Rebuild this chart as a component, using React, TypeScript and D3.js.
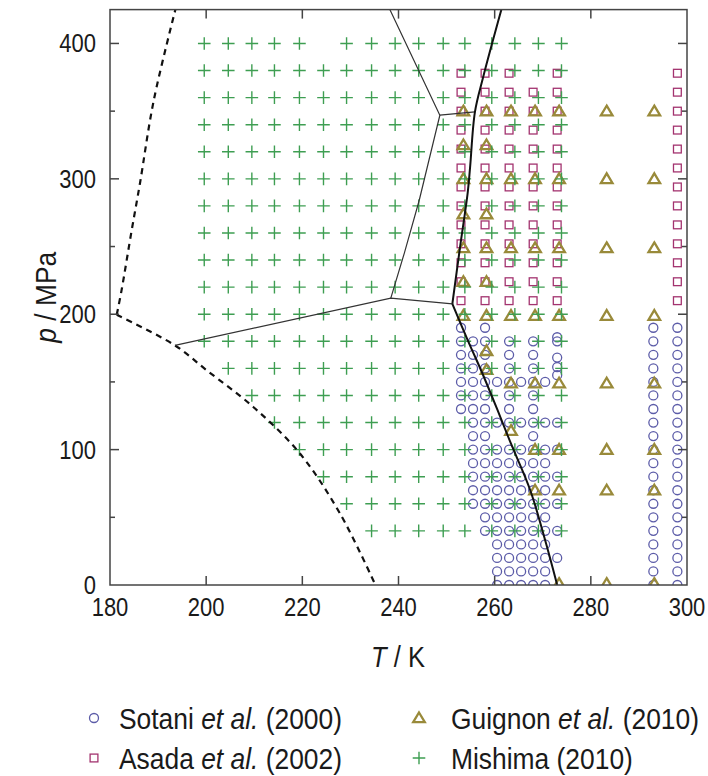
import React from "react";
import * as d3 from "d3";

// ---- Data ----------------------------------------------------------------

// Mishima (2010): grid of (T, p) points
const mishimaTemps = [199.6, 204.6, 209.5, 214.2, 219.4, 224.4, 229.2, 234.4, 239.3, 244.2, 249.3, 253.8, 259.4, 264.2, 269.1, 273.9];
const mishimaPressures = [400, 380, 360, 340, 320, 300, 280, 260, 240, 220, 200, 180, 160, 140, 120, 100, 80, 60, 40];
// lowest temperature measured on each isobar (same order as mishimaPressures)
const mishimaFirstT = [199.6, 199.6, 199.6, 199.6, 199.6, 199.6, 199.6, 199.6, 199.6, 199.6, 199.6, 199.6, 204.6, 209.5, 214.2, 219.4, 224.4, 229.2, 234.4];
const mishimaMissing: [number, number][] = [[224.4, 400]];

// Asada et al. (2002)
const asadaTemps = [253, 258, 263, 268, 273, 298];
const asadaPressures = [210, 224, 238, 252, 266, 280, 294, 308, 322, 336, 350, 364, 378];
const asadaMissing: [number, number][] = [[268, 378]];

// Guignon et al. (2010): [p, temperatures]
const guignonRows: [number, number[]][] = [
  [350, [253.5, 258.3, 263.4, 268.4, 273.4, 283.3, 293.2]],
  [325, [253.5, 258.3]],
  [300, [253.5, 258.3, 263.4, 268.4, 273.4, 283.3, 293.2]],
  [274, [253.5, 258.3]],
  [249, [253.5, 258.3, 263.4, 268.4, 273.4, 283.3, 293.2]],
  [224, [253.5, 258.3]],
  [199, [253.5, 258.3, 263.4, 268.4, 273.4, 283.3, 293.2]],
  [173, [258.3]],
  [159, [258.3]],
  [149, [263.4, 268.4, 273.4, 283.3, 293.2]],
  [114, [263.4]],
  [100, [268.4, 273.4, 283.3, 293.2]],
  [70, [268.4, 273.4, 283.3, 293.2]],
  [1, [273.4, 283.3, 293.2]],
];

// Sotani et al. (2000): [p, temperatures]
const sotaniRows: [number, number[]][] = [
  [190, [253, 258]],
  [183, [273]],
  [180, [253, 255.5, 258, 263, 268, 273]],
  [170, [253, 255.5, 258, 263, 268]],
  [168, [273]],
  [161, [273]],
  [160, [253, 255.5, 258, 263, 268]],
  [155, [273]],
  [150, [253, 255.5, 258, 260.5, 263, 265.5, 268, 270.5]],
  [140, [253, 255.5, 258, 263, 268]],
  [130, [253, 255.5, 258, 263, 268]],
  [120, [255.5, 258, 260.5, 263, 265.5, 268, 270.5, 273]],
  [110, [255.5, 258, 268]],
  [100, [255.5, 258, 260.5, 263, 265.5, 268, 270.5, 273]],
  [90, [255.5, 258, 260.5, 263, 265.5, 268, 270.5]],
  [80, [255.5, 258, 260.5, 263, 265.5, 268, 270.5, 273]],
  [70, [255.5, 258, 260.5, 263, 265.5, 268, 270.5]],
  [60, [255.5, 258, 260.5, 263, 265.5, 268, 270.5, 273]],
  [50, [258, 260.5, 263, 265.5, 268, 270.5]],
  [40, [258, 260.5, 263, 265.5, 268, 270.5, 273]],
  [30, [260.5, 263, 265.5, 268, 270.5]],
  [20, [260.5, 263, 265.5, 268, 270.5, 273]],
  [10, [260.5, 263, 265.5, 268, 270.5]],
  [0, [260.5, 263, 265.5, 268, 270.5]],
];
const sotaniHighTemps = [293, 298];
const sotaniHighPressures = [0, 10, 20, 30, 40, 50, 60, 70, 80, 90, 100, 110, 120, 130, 140, 150, 160, 170, 180, 190];

// Phase boundaries [T, p]
const boundaryUpperDashed: [number, number][] = [[181.4, 199.6], [182.4, 217.6], [184.5, 261.8], [186.2, 296], [189.1, 358], [193.6, 425]];
const boundaryLowerDashed: [number, number][] = [[181.4, 199.6], [193.5, 177], [200.1, 158.6], [209.8, 131.5], [219.5, 97.1], [227.8, 53], [235.2, 0]];
const boundaryThinA: [number, number][] = [[193.5, 177], [238.4, 211.9], [251.2, 207.7]];
const boundaryThinB: [number, number][] = [[238.4, 211.9], [241.2, 245], [244.3, 284], [248.6, 347], [238.2, 425]];
const boundaryThinC: [number, number][] = [[248.6, 347], [255.9, 349.5]];
const meltingUpper: [number, number][] = [[251.2, 207.7], [252.8, 249.5], [254.4, 290], [254.9, 309], [255.9, 349.5], [257.6, 375], [261.4, 425]];
const meltingLower: [number, number][] = [[251.2, 207.7], [254.5, 180], [257.3, 157.5], [260.5, 130], [263.2, 106], [267.4, 70], [270.5, 33], [273, 0]];

const xTicks = [180, 200, 220, 240, 260, 280, 300];
const yTicks = [0, 100, 200, 300, 400];
const yMinorTicks = [50, 150, 250, 350];

// ---- Styling ---------------------------------------------------------------
const W = 708;
const H = 776;
const M = { left: 110, right: 687, top: 9.6, bottom: 585 };
const FONT = "'Liberation Sans', Arial, Helvetica, sans-serif";
const NARROW = 0.88; // horizontal squeeze for a narrow sans look
const C_SOTANI = "#5c5ca8";
const C_ASADA = "#a3336f";
const C_GUIGNON = "#998a3a";
const C_MISHIMA = "#3e9e52";
const TEXT = "#1a1a1a";

const x = d3.scaleLinear().domain([180, 300]).range([M.left, M.right]);
const y = d3.scaleLinear().domain([0, 425]).range([M.bottom, M.top]);

const lineGen = d3
  .line<[number, number]>()
  .x((d) => x(d[0]))
  .y((d) => y(d[1]))
  .curve(d3.curveCatmullRom.alpha(0.5));

const straight = d3
  .line<[number, number]>()
  .x((d) => x(d[0]))
  .y((d) => y(d[1]));

function Circle({ cx, cy }: { cx: number; cy: number }) {
  return <circle cx={cx} cy={cy} r={4.5} fill="none" stroke={C_SOTANI} strokeWidth={1.3} />;
}
function Square({ cx, cy }: { cx: number; cy: number }) {
  return <rect x={cx - 3.9} y={cy - 3.9} width={7.8} height={7.8} fill="none" stroke={C_ASADA} strokeWidth={1.3} />;
}
function Triangle({ cx, cy }: { cx: number; cy: number }) {
  const d = `M${cx},${cy - 5.5}L${cx + 5.8},${cy + 4.2}L${cx - 5.8},${cy + 4.2}Z`;
  return <path d={d} fill="none" stroke={C_GUIGNON} strokeWidth={2.3} strokeLinejoin="miter" />;
}
function Cross({ cx, cy }: { cx: number; cy: number }) {
  return (
    <path
      d={`M${cx - 6.3},${cy}H${cx + 6.3}M${cx},${cy - 6.3}V${cy + 6.3}`}
      stroke={C_MISHIMA}
      strokeWidth={1.4}
      fill="none"
    />
  );
}

function Label({
  x0,
  y0,
  size,
  anchor = "start",
  rotate = 0,
  children,
}: {
  x0: number;
  y0: number;
  size: number;
  anchor?: "start" | "middle" | "end";
  rotate?: number;
  children: React.ReactNode;
}) {
  return (
    <text
      transform={`translate(${x0},${y0}) rotate(${rotate}) scale(${NARROW},1)`}
      textAnchor={anchor}
      fontFamily={FONT}
      fontSize={size}
      fill={TEXT}
    >
      {children}
    </text>
  );
}

export default function App() {
  const mishimaPts: [number, number][] = [];
  mishimaPressures.forEach((p, i) => {
    mishimaTemps.forEach((t) => {
      if (t < mishimaFirstT[i]) return;
      if (mishimaMissing.some(([mt, mp]) => mt === t && mp === p)) return;
      mishimaPts.push([t, p]);
    });
  });

  const asadaPts: [number, number][] = [];
  asadaPressures.forEach((p) =>
    asadaTemps.forEach((t) => {
      if (asadaMissing.some(([mt, mp]) => mt === t && mp === p)) return;
      asadaPts.push([t, p]);
    })
  );

  const guignonPts: [number, number][] = [];
  guignonRows.forEach(([p, ts]) => ts.forEach((t) => guignonPts.push([t, p])));

  const sotaniPts: [number, number][] = [];
  sotaniRows.forEach(([p, ts]) => ts.forEach((t) => sotaniPts.push([t, p])));
  sotaniHighTemps.forEach((t) => sotaniHighPressures.forEach((p) => sotaniPts.push([t, p])));

  const tickColor = "#444";

  return (
    <svg
      width={W}
      height={H}
      viewBox={`0 0 ${W} ${H}`}
      style={{ position: "absolute", left: 0, top: 0, background: "#fff" }}
    >
      <defs>
        <clipPath id="plotClip">
          <rect x={M.left} y={M.top} width={M.right - M.left} height={M.bottom - M.top} />
        </clipPath>
      </defs>

      {/* data markers */}
      <g clipPath="url(#plotClip)">
        {sotaniPts.map(([t, p], i) => (
          <Circle key={`s${i}`} cx={x(t)} cy={y(p)} />
        ))}
        {asadaPts.map(([t, p], i) => (
          <Square key={`a${i}`} cx={x(t)} cy={y(p)} />
        ))}
        {guignonPts.map(([t, p], i) => (
          <Triangle key={`g${i}`} cx={x(t)} cy={y(p)} />
        ))}
        {mishimaPts.map(([t, p], i) => (
          <Cross key={`m${i}`} cx={x(t)} cy={y(p)} />
        ))}

        {/* phase boundaries */}
        <path d={lineGen(boundaryUpperDashed) || ""} fill="none" stroke="#111" strokeWidth={2.2} strokeDasharray="6 5" />
        <path d={lineGen(boundaryLowerDashed) || ""} fill="none" stroke="#111" strokeWidth={2.2} strokeDasharray="6 5" />
        <path d={straight(boundaryThinA) || ""} fill="none" stroke="#333" strokeWidth={1.2} />
        <path d={straight(boundaryThinB) || ""} fill="none" stroke="#333" strokeWidth={1.2} />
        <path d={straight(boundaryThinC) || ""} fill="none" stroke="#333" strokeWidth={1.2} />
        <path d={lineGen(meltingUpper) || ""} fill="none" stroke="#111" strokeWidth={2} />
        <path d={lineGen(meltingLower) || ""} fill="none" stroke="#111" strokeWidth={2} />
      </g>

      {/* frame */}
      <rect
        x={M.left}
        y={M.top}
        width={M.right - M.left}
        height={M.bottom - M.top}
        fill="none"
        stroke={tickColor}
        strokeWidth={1.5}
      />

      {/* x ticks */}
      {xTicks.map((t) => (
        <g key={`xt${t}`}>
          {t > 180 && t < 300 && (
            <>
              <line x1={x(t)} x2={x(t)} y1={M.bottom} y2={M.bottom - 9} stroke={tickColor} strokeWidth={1.5} />
              <line x1={x(t)} x2={x(t)} y1={M.top} y2={M.top + 9} stroke={tickColor} strokeWidth={1.5} />
            </>
          )}
          <Label x0={x(t)} y0={616} size={25} anchor="middle">
            {t}
          </Label>
        </g>
      ))}

      {/* y ticks */}
      {yTicks.map((p) => (
        <g key={`yt${p}`}>
          {p > 0 && (
            <>
              <line x1={M.left} x2={M.left + 9} y1={y(p)} y2={y(p)} stroke={tickColor} strokeWidth={1.5} />
              <line x1={M.right} x2={M.right - 9} y1={y(p)} y2={y(p)} stroke={tickColor} strokeWidth={1.5} />
            </>
          )}
          <Label x0={96} y0={y(p) + 9} size={25} anchor="end">
            {p}
          </Label>
        </g>
      ))}
      {yMinorTicks.map((p) => (
        <g key={`ym${p}`}>
          <line x1={M.left} x2={M.left + 5} y1={y(p)} y2={y(p)} stroke={tickColor} strokeWidth={1.5} />
          <line x1={M.right} x2={M.right - 5} y1={y(p)} y2={y(p)} stroke={tickColor} strokeWidth={1.5} />
        </g>
      ))}

      {/* axis titles */}
      <Label x0={398} y0={667} size={29} anchor="middle">
        <tspan fontStyle="italic">T</tspan> / K
      </Label>
      <Label x0={56} y0={(M.top + M.bottom) / 2} size={30} anchor="middle" rotate={-90}>
        <tspan fontStyle="italic">p</tspan> / MPa
      </Label>

      {/* legend */}
      <Circle cx={94} cy={718} />
      <Label x0={119} y0={729} size={30}>
        Sotani <tspan fontStyle="italic">et al.</tspan> (2000)
      </Label>
      <Square cx={94} cy={758} />
      <Label x0={119} y0={769} size={30}>
        Asada <tspan fontStyle="italic">et al.</tspan> (2002)
      </Label>
      <Triangle cx={419} cy={718} />
      <Label x0={451} y0={729} size={30}>
        Guignon <tspan fontStyle="italic">et al.</tspan> (2010)
      </Label>
      <Cross cx={419} cy={758} />
      <Label x0={451} y0={769} size={30}>
        Mishima (2010)
      </Label>
    </svg>
  );
}
